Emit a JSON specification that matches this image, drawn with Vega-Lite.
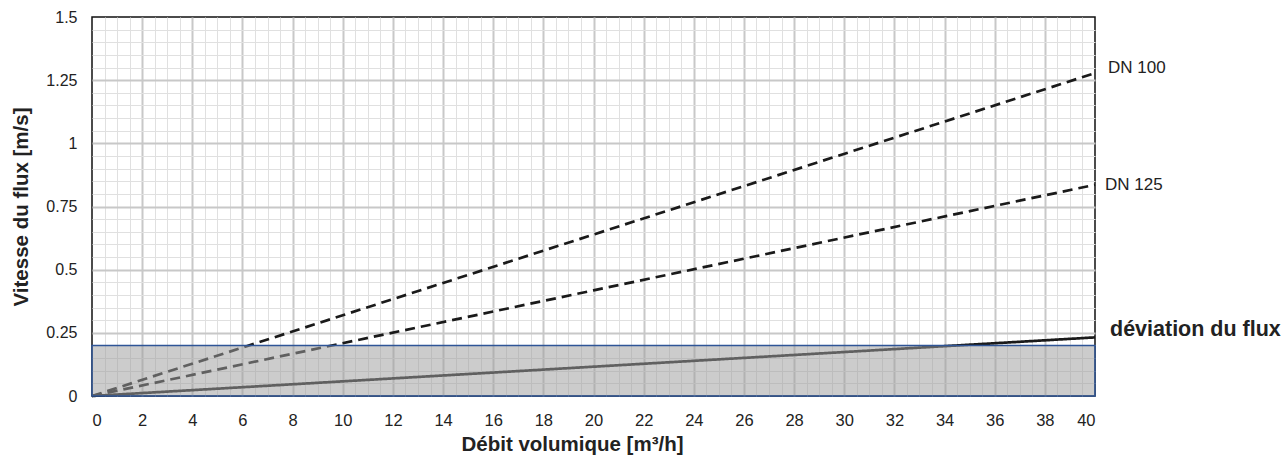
{
  "$schema": "https://vega.github.io/schema/vega-lite/v6.json",
  "width": 1003,
  "height": 379,
  "autosize": {"type": "none"},
  "padding": {"left": 92, "top": 17, "right": 191, "bottom": 67},
  "background": "white",
  "config": {
    "view": {"stroke": "#111", "strokeWidth": 1.5},
    "font": "Liberation Sans"
  },
  "datasets": {
    "lines": [
      {"series": "DN 100", "q": 0, "v": 0},
      {"series": "DN 100", "q": 20, "v": 0.639},
      {"series": "DN 100", "q": 40, "v": 1.278},
      {"series": "DN 125", "q": 0, "v": 0},
      {"series": "DN 125", "q": 20, "v": 0.418},
      {"series": "DN 125", "q": 40, "v": 0.836},
      {"series": "déviation du flux", "q": 0, "v": 0},
      {"series": "déviation du flux", "q": 20, "v": 0.116},
      {"series": "déviation du flux", "q": 40, "v": 0.232}
    ],
    "zone": [{"q": 0, "q2": 40, "v": 0, "v2": 0.2}]
  },
  "encoding": {
    "x": {
      "field": "q", "type": "quantitative",
      "scale": {"domain": [0, 40], "nice": false, "zero": false},
      "axis": {
        "values": [0,0.5,1,1.5,2,2.5,3,3.5,4,4.5,5,5.5,6,6.5,7,7.5,8,8.5,9,9.5,10,10.5,11,11.5,12,12.5,13,13.5,14,14.5,15,15.5,16,16.5,17,17.5,18,18.5,19,19.5,20,20.5,21,21.5,22,22.5,23,23.5,24,24.5,25,25.5,26,26.5,27,27.5,28,28.5,29,29.5,30,30.5,31,31.5,32,32.5,33,33.5,34,34.5,35,35.5,36,36.5,37,37.5,38,38.5,39,39.5,40],
        "grid": true,
        "gridColor": {"condition": {"test": "datum.value % 2 === 0", "value": "#c8c8c8"}, "value": "#e0e0e0"},
        "gridWidth": {"condition": {"test": "datum.value % 2 === 0", "value": 2}, "value": 1},
        "gridOpacity": {"condition": {"test": "datum.value === 0 || datum.value === 40", "value": 0}, "value": 1},
        "ticks": false,
        "domain": false,
        "labelExpr": "datum.value % 2 === 0 ? format(datum.value, '') : ''",
        "labelOverlap": false,
        "labelFontSize": 16.5,
        "labelColor": "#222",
        "labelPadding": 16,
        "title": "Débit volumique [m³/h]",
        "titleFontSize": 20.5,
        "titleFontWeight": "bold",
        "titleColor": "#222",
        "titlePadding": 6,
        "titleX": 480
      }
    },
    "y": {
      "field": "v", "type": "quantitative",
      "scale": {"domain": [0, 1.5], "nice": false},
      "axis": {
        "values": [0,0.05,0.1,0.15,0.2,0.25,0.3,0.35,0.4,0.45,0.5,0.55,0.6,0.65,0.7,0.75,0.8,0.85,0.9,0.95,1,1.05,1.1,1.15,1.2,1.25,1.3,1.35,1.4,1.45,1.5],
        "grid": true,
        "gridColor": {"condition": {"test": "abs(datum.value*4 - round(datum.value*4)) < 1e-6", "value": "#c8c8c8"}, "value": "#e0e0e0"},
        "gridWidth": {"condition": {"test": "abs(datum.value*4 - round(datum.value*4)) < 1e-6", "value": 2}, "value": 1},
        "gridOpacity": {"condition": {"test": "datum.value === 0 || datum.value === 1.5", "value": 0}, "value": 1},
        "ticks": false,
        "domain": false,
        "labelExpr": "abs(datum.value*4 - round(datum.value*4)) < 1e-6 ? format(datum.value, '') : ''",
        "labelOverlap": false,
        "labelFontSize": 16,
        "labelColor": "#222",
        "labelPadding": 15,
        "title": "Vitesse du flux [m/s]",
        "titleFontSize": 20.5,
        "titleFontWeight": "bold",
        "titleColor": "#222",
        "titlePadding": 14
      }
    }
  },
  "layer": [
    {
      "data": {"name": "lines"},
      "mark": {"type": "line", "color": "#1a1a1a", "strokeWidth": 2.7},
      "encoding": {
        "detail": {"field": "series"},
        "strokeDash": {
          "field": "series", "type": "nominal",
          "scale": {"domain": ["DN 100", "DN 125", "déviation du flux"], "range": [[10, 6], [10, 6], [1, 0]]},
          "legend": null
        }
      }
    },
    {
      "data": {"name": "zone"},
      "mark": {"type": "rect", "fill": "#9f9f9f", "fillOpacity": 0.53, "stroke": "#2f5597", "strokeWidth": 1.5},
      "encoding": {
        "x2": {"field": "q2"},
        "y2": {"field": "v2"}
      }
    },
    {
      "data": {"name": "lines"},
      "transform": [{"filter": "datum.q === 40 && datum.series === 'DN 100'"}],
      "mark": {"type": "text", "align": "left", "baseline": "middle", "dx": 13, "dy": -5, "fontSize": 17, "color": "#222"},
      "encoding": {
        "text": {"field": "series"}
      }
    },
    {
      "data": {"name": "lines"},
      "transform": [{"filter": "datum.q === 40 && datum.series === 'DN 125'"}],
      "mark": {"type": "text", "align": "left", "baseline": "middle", "dx": 10, "dy": 0, "fontSize": 17, "color": "#222"},
      "encoding": {
        "text": {"field": "series"}
      }
    },
    {
      "data": {"name": "lines"},
      "transform": [{"filter": "datum.q === 40 && datum.series === 'déviation du flux'"}],
      "mark": {"type": "text", "align": "left", "baseline": "middle", "dx": 15, "dy": -7, "fontSize": 21.5, "fontWeight": "bold", "color": "#222"},
      "encoding": {
        "text": {"field": "series"}
      }
    }
  ]
}
